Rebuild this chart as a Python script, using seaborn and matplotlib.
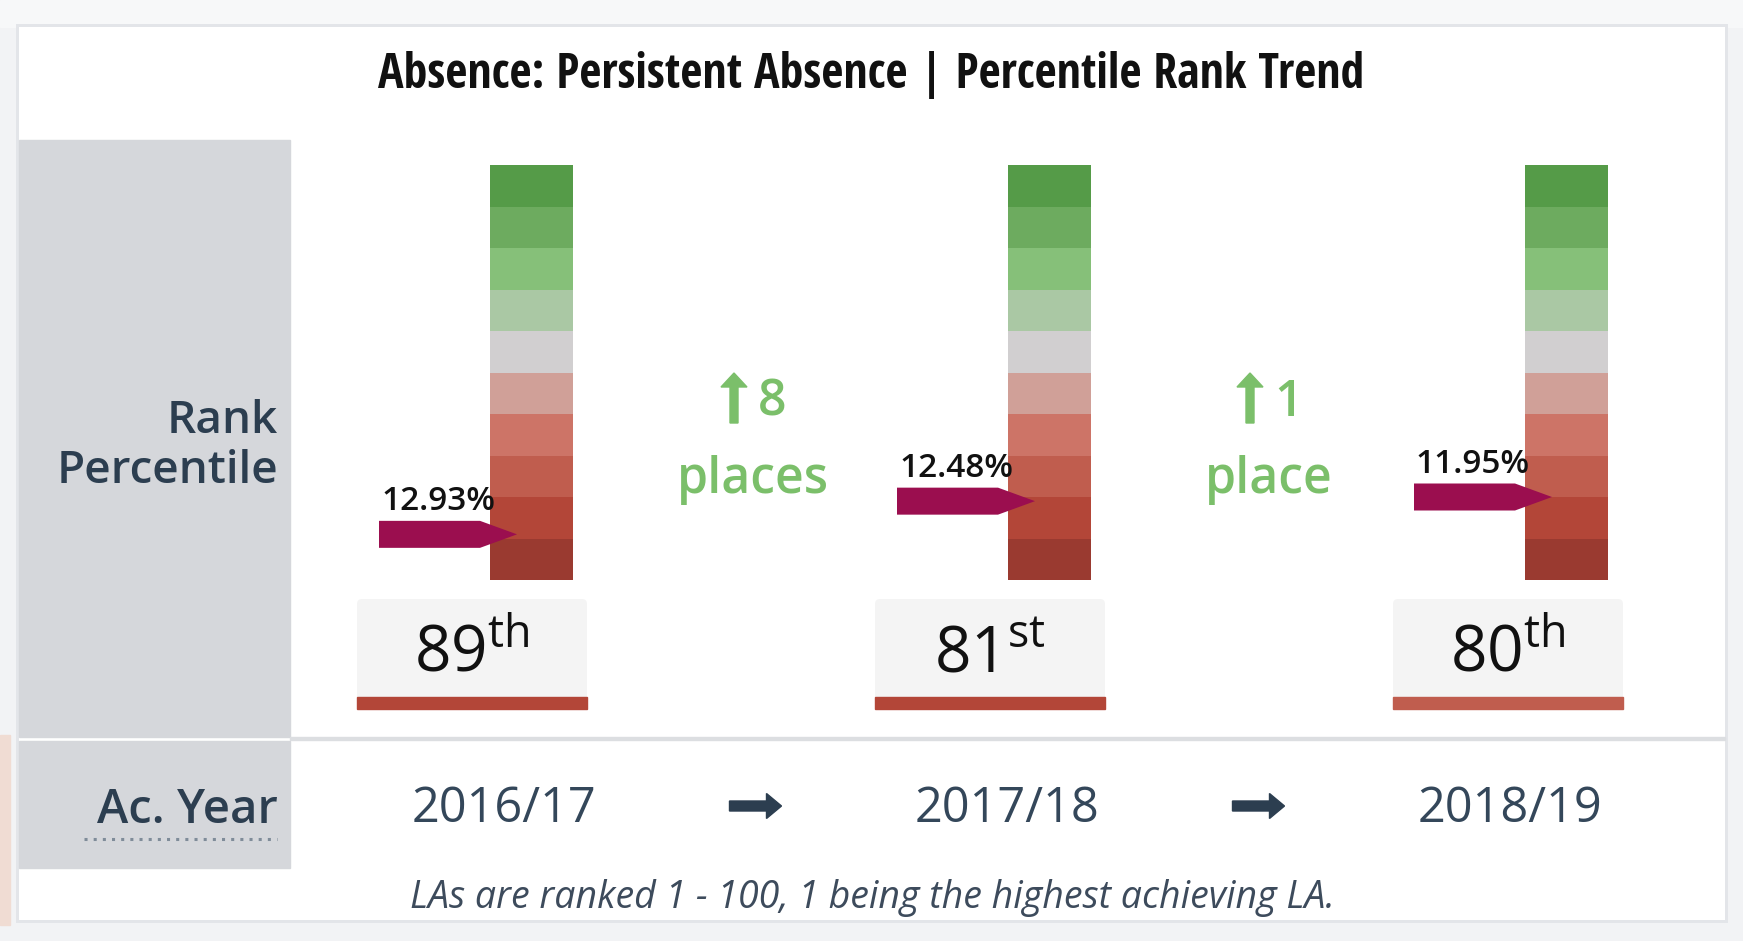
import numpy as np
import matplotlib
matplotlib.use("Agg")
import matplotlib.pyplot as plt
import seaborn as sns
from matplotlib.colors import ListedColormap
from matplotlib.patches import Rectangle, Polygon, FancyBboxPatch, FancyArrow
from matplotlib import font_manager

# ---------------- data ----------------
title = "Absence: Persistent Absence | Percentile Rank Trend"
years = ["2016/17", "2017/18", "2018/19"]
ranks = [89, 81, 80]
rank_suffixes = ["th", "st", "th"]
values = ["12.93%", "12.48%", "11.95%"]
changes = [8, 1]
change_units = ["places", "place"]
row_labels = ["Rank\nPercentile", "Ac. Year"]
footnote = "LAs are ranked 1 - 100, 1 being the highest achieving LA."
band_colors = ["#559b48", "#6dab5f", "#86c079", "#aac8a4", "#d1cfd0",
               "#d0a098", "#cd7467", "#c05d4e", "#b34638", "#9a3a30"]

# ---------------- style ----------------
sns.set_theme(style="white")
plt.rcParams["font.family"] = ["Open Sans", "DejaVu Sans"]
plt.rcParams["mathtext.fontset"] = "custom"
plt.rcParams["mathtext.rm"] = "Open Sans"

names = {f.name for f in font_manager.fontManager.ttflist}
title_family, title_stretch = "DejaVu Sans", "condensed"
for cand in ["Open Sans Condensed", "Roboto Condensed", "Noto Sans Condensed",
             "Liberation Sans Narrow", "DejaVu Sans Condensed"]:
    if cand in names:
        title_family, title_stretch = cand, "normal"
        break
title_weights = {f.weight for f in font_manager.fontManager.ttflist if f.name == title_family}
title_weight = "light" if any(w in (300, "light") for w in title_weights) else "normal"

NAVY = "#2c3e50"
GREEN = "#7bbf6a"
MAGENTA = "#9b0e4f"

W, H = 1743, 941
fig = plt.figure(figsize=(W / 100, H / 100), dpi=100, facecolor="#f2f3f5")
ax = fig.add_axes([0, 0, 1, 1])
ax.set_xlim(0, W)
ax.set_ylim(H, 0)
ax.axis("off")


def frac_rect(x, y, w, h):
    return [x / W, 1 - (y + h) / H, w / W, h / H]


# background details
ax.add_patch(Rectangle((0, 0), W, 27, color="#f7f8f9", zorder=0))
ax.add_patch(Rectangle((0, 735), 10, 190, color="#f0dcd3", zorder=0))
# card
ax.add_patch(Rectangle((16, 24), 1712, 899, facecolor="#e3e5e9", edgecolor="none", zorder=0.5))
ax.add_patch(Rectangle((19, 27), 1706, 893, facecolor="white", edgecolor="none", zorder=1))

# left grey panel
ax.add_patch(Rectangle((19, 140), 271, 597, color="#d5d7db", zorder=2))
ax.add_patch(Rectangle((19, 741), 271, 127, color="#d5d7db", zorder=2))
ax.add_patch(Rectangle((290, 737), 1435, 3, color="#dcdee1", zorder=2))

# title
ax.text(871, 88, title, ha="center", va="baseline", fontsize=34.5,
        family=title_family, fontstretch=title_stretch, fontweight=title_weight,
        color="#111111", zorder=5)

# row labels
ax.text(278, 483, row_labels[0], ha="right", va="baseline", fontsize=33,
        fontweight="semibold", color=NAVY, linespacing=1.15, multialignment="right", zorder=5)
ax.text(278, 823, row_labels[1], ha="right", va="baseline", fontsize=34,
        fontweight="semibold", color=NAVY, zorder=5)
ax.plot([84, 277], [839, 839], ls=(0, (1, 2)), lw=2.2, color="#7f8c99", zorder=5)

# layout constants
bar_lefts = [490, 1008, 1525]
bar_top, bar_w, bar_h = 165, 83, 415
box_lefts = [357, 875, 1393]
box_w, box_top, box_h, strip_h = 230, 599, 98, 12
year_x = [504, 1007, 1510]
change_x = [753, 1269]

cmap = ListedColormap(band_colors)
bands = np.arange(len(band_colors)).reshape(-1, 1)

for i, (rank, sfx, val) in enumerate(zip(ranks, rank_suffixes, values)):
    bax = fig.add_axes(frac_rect(bar_lefts[i], bar_top, bar_w, bar_h))
    sns.heatmap(bands, cmap=cmap, vmin=-0.5, vmax=len(band_colors) - 0.5,
                cbar=False, xticklabels=False, yticklabels=False, ax=bax)
    bax.set_axis_off()
    # rank pointer: y position from rank on the 0-100 scale (10 rows)
    y = rank / 10
    hh = 13.5 / (bar_h / 10)
    xl, xb, xt = -111 / bar_w, -10 / bar_w, 27 / bar_w
    bax.add_patch(Polygon([(xl, y - hh), (xb, y - hh), (xt, y), (xb, y + hh), (xl, y + hh)],
                          closed=True, facecolor=MAGENTA, edgecolor="none",
                          clip_on=False, zorder=5))
    bax.text(-109 / bar_w, y - 33 / (bar_h / 10), val, ha="left", va="center",
             fontsize=24, fontweight="semibold", color="#111111", clip_on=False, zorder=6)

    # rank box
    bl = box_lefts[i]
    ax.add_patch(FancyBboxPatch((bl, box_top), box_w, box_h + strip_h,
                                boxstyle="round,pad=0,rounding_size=5",
                                facecolor="#f4f4f4", edgecolor="none", zorder=3))
    ax.add_patch(Rectangle((bl, box_top + box_h), box_w, strip_h,
                           color=band_colors[(rank - 1) // 10], zorder=4))
    ax.text(bl + box_w / 2, 672, r"$\mathrm{%d}^{\mathrm{%s}}$" % (rank, sfx),
            ha="center", va="baseline", fontsize=46, color="#111111", zorder=5)

    # year
    ax.text(year_x[i], 809, years[i], ha="center", va="center", fontsize=35,
            color="#34475a", zorder=5)

# change annotations and year arrows
for j, (chg, unit) in enumerate(zip(changes, change_units)):
    cx = change_x[j]
    ax.add_patch(FancyArrow(cx - 19, 423, 0, -50, width=8, head_width=26, head_length=14,
                            length_includes_head=True, color=GREEN, zorder=5))
    ax.text(cx + 5, 416, str(chg), ha="left", va="baseline", fontsize=36,
            fontweight="semibold", color=GREEN, zorder=5)
    ax.text(cx, 493, unit, ha="center", va="baseline", fontsize=36,
            fontweight="semibold", color=GREEN, zorder=5)
    ax0 = (year_x[j] + year_x[j + 1]) / 2
    ax.add_patch(FancyArrow(ax0 - 26, 806, 52, 0, width=10, head_width=25, head_length=15,
                            length_includes_head=True, color=NAVY, zorder=5))

# footnote
ax.text(872, 898, footnote, ha="center", va="center", fontsize=27, style="italic",
        color="#3d4b5c", zorder=5)

fig.savefig("out.png", dpi=100, facecolor=fig.get_facecolor())
